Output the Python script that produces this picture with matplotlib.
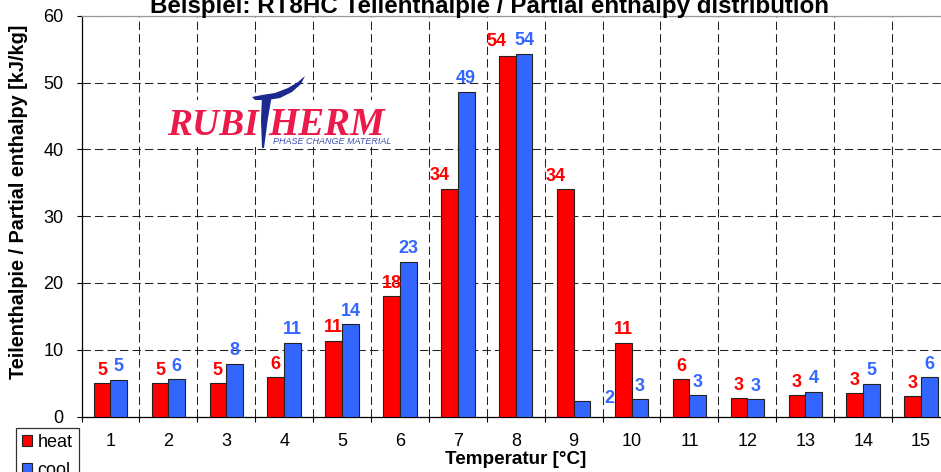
import matplotlib
matplotlib.use("Agg")
import matplotlib.pyplot as plt
import numpy as np
from matplotlib.patches import Rectangle, Polygon

plt.rcParams['font.family'] = ['Liberation Sans', 'DejaVu Sans']

# ---------------- data ----------------
categories = [str(i) for i in range(1, 16)]
heat = [4.97, 4.97, 4.97, 5.87, 11.3, 18.0, 34.1, 54.0, 34.0, 11.05, 5.55, 2.72, 3.17, 3.45, 3.02]
cool = [5.45, 5.57, 7.86, 11.0, 13.8, 23.1, 48.6, 54.3, 2.32, 2.57, 3.17, 2.57, 3.67, 4.87, 5.87]
y_ticks = [0, 10, 20, 30, 40, 50, 60]
title = "Beispiel: RT8HC Teilenthalpie / Partial enthalpy distribution"
xlabel = "Temperatur [°C]"
ylabel = "Teilenthalpie / Partial enthalpy [kJ/kg]"

W, H = 941, 472
RED = '#FF0000'
BLUE = '#3366FF'

def px(x, y):
    return (x / W, 1 - y / H)

fig = plt.figure(figsize=(W / 100, H / 100), dpi=100)
ax_l, ax_r, ax_t, ax_b = 81.5, 950.0, 15.7, 416.5
ax = fig.add_axes([ax_l / W, 1 - ax_b / H, (ax_r - ax_l) / W, (ax_b - ax_t) / H])

x = np.arange(1, len(categories) + 1)
bw = 0.288
b_heat = ax.bar(x - bw / 2, heat, bw, color=RED, edgecolor='#222222', linewidth=0.8, zorder=3, label='heat')
b_cool = ax.bar(x + bw / 2, cool, bw, color=BLUE, edgecolor='#222222', linewidth=0.8, zorder=3, label='cool')

# data labels (offsets in points; a few labels were moved in the original)
label_offsets = {('cool', 8): (19.7, -1.4), ('heat', 6): (-7.3, 6.3),
                 ('heat', 7): (-7.6, 7.2), ('heat', 8): (-7.0, 6.3)}
for name, vals, xs, col in (('heat', heat, x - bw / 2, RED), ('cool', cool, x + bw / 2, BLUE)):
    for i, (xi, v) in enumerate(zip(xs, vals)):
        off = label_offsets.get((name, i), (0, 6.3))
        ax.annotate(str(int(np.floor(v + 0.5))), (xi, v), xytext=off, textcoords='offset points',
                    ha='center', va='baseline', color=col, fontsize=13, fontweight='bold', zorder=4)

ax.set_xlim(0.5, len(categories) + 0.5)
ax.set_ylim(0, 60)
ax.set_yticks(y_ticks)
ax.set_xticks(x)
ax.set_xticklabels(categories)
ax.set_xticks(np.arange(0.5, len(categories) + 1, 1.0), minor=True)

ax.tick_params(axis='y', which='major', direction='out', length=3.6, width=0.8, pad=9.4, labelsize=13, colors='black')
ax.tick_params(axis='x', which='major', length=0, pad=11.9, labelsize=13)
ax.tick_params(axis='x', which='minor', direction='out', length=3.6, width=0.8)

dash = (0, (8, 4))
ax.yaxis.grid(True, linestyle=dash, color='#222222', linewidth=0.75, zorder=1)
ax.xaxis.grid(True, which='minor', linestyle=dash, color='#222222', linewidth=0.75, zorder=1)
ax.xaxis.grid(False, which='major')
ax.set_axisbelow(True)

for s in ('left', 'bottom'):
    ax.spines[s].set_color('black')
    ax.spines[s].set_linewidth(0.9)
ax.spines['top'].set_color('#999999')
ax.spines['top'].set_linewidth(0.9)
ax.spines['right'].set_visible(False)

# axis titles
fig.text(*px(516, 451.5), xlabel, ha='center', va='top', fontsize=13.6, fontweight='bold')
fig.text(*px(19, 201.5), ylabel, ha='center', va='center', rotation=90, fontsize=14.3, fontweight='bold')
fig.text(*px(489, 13.3), title, ha='center', va='baseline', fontsize=17.4, fontweight='bold')

# legend
leg = fig.legend(handles=[b_heat, b_cool], labels=['heat', 'cool'], loc='upper left',
                 bbox_to_anchor=px(16, 428), bbox_transform=fig.transFigure, borderaxespad=0,
                 fontsize=13, handlelength=0.55, handleheight=0.55, handletextpad=0.3,
                 labelspacing=0.6, borderpad=0.35, fancybox=False, framealpha=1, edgecolor='#333333')
leg.get_frame().set_linewidth(0.9)

# logo
fig.patches.append(Rectangle(px(160, 147), (405 - 160) / W, (147 - 100) / H, transform=fig.transFigure,
                             facecolor='white', edgecolor='none', zorder=5))
LOGO_RED = '#EC1A4B'
LOGO_BLUE = '#1B2A8C'
fig.text(*px(166.7, 135), "RUBI", ha='left', va='baseline', fontsize=27, fontweight='bold',
         fontstyle='italic', family='Liberation Serif', color=LOGO_RED, zorder=6)
fig.text(*px(268, 135), "HERM", ha='left', va='baseline', fontsize=28, fontweight='bold',
         fontstyle='italic', family='Liberation Serif', color=LOGO_RED, zorder=6)
fig.text(*px(273, 144.5), "PHASE CHANGE MATERIAL", ha='left', va='baseline', fontsize=6.5,
         fontstyle='italic', color='#4050B0', zorder=6)
swoosh = [(252, 97), (262, 95), (275, 93), (288, 88), (298, 82), (305, 76), (301, 84), (292, 92),
          (280, 98), (268, 100), (255, 100)]
stem = [(262, 96), (272, 95), (268, 118), (264, 148), (262, 148), (261, 120)]
for pts in (swoosh, stem):
    fig.patches.append(Polygon([px(a, b) for a, b in pts], closed=True, transform=fig.transFigure,
                               facecolor=LOGO_BLUE, edgecolor='none', zorder=7))

fig.savefig('out.png', dpi=100)
